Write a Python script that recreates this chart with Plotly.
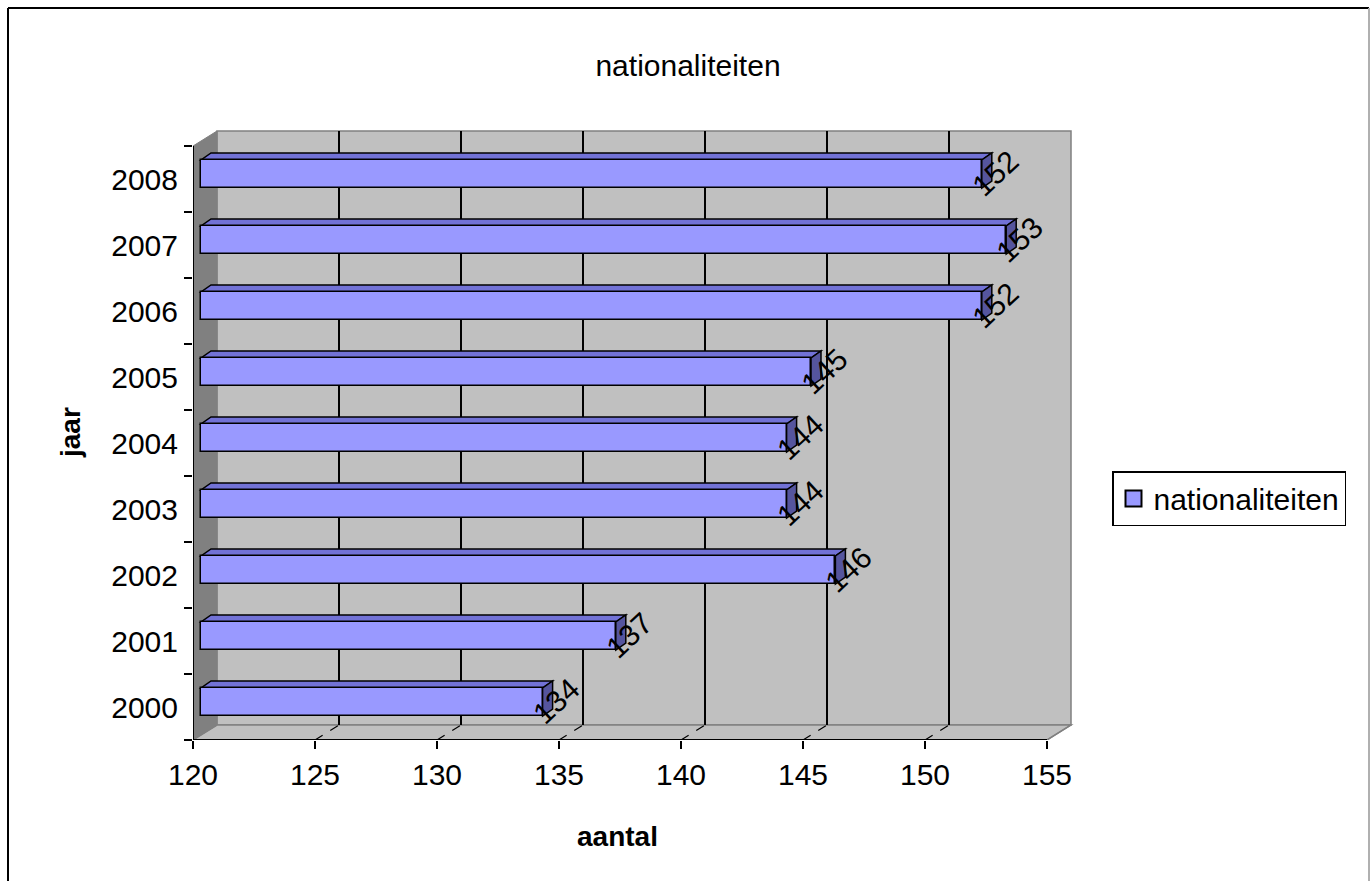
import plotly.graph_objects as go

# ---- data ----
years = ["2000", "2001", "2002", "2003", "2004", "2005", "2006", "2007", "2008"]
counts = [134, 137, 146, 144, 144, 145, 152, 153, 152]
x_ticks = [120, 125, 130, 135, 140, 145, 150, 155]
series_name = "nationaliteiten"
chart_title = "nationaliteiten"
x_title = "aantal"
y_title = "jaar"

# ---- geometry (pixels) ----
W, H = 1371, 881
L, R = 193, 1075          # plot area left/right
T, B = 128, 740           # plot area top/bottom
XMIN, XMAX = x_ticks[0], x_ticks[-1]
PX_PER_X = (1047 - 193) / (XMAX - XMIN)
PX_PER_Y = 66.0
x_range = [XMIN, XMIN + (R - L) / PX_PER_X]
y_range = [-0.5, -0.5 + (B - T) / PX_PER_Y]
NCAT = len(years)


def dx(p):
    return p / PX_PER_X


def dy(p):
    return p / PX_PER_Y


def pxp(px):
    return (px - L) / (R - L)


def pyp(py):
    return (B - py) / (B - T)


WDX, WDY = 24, 15       # wall depth
BDX, BDY = 8, 5         # bar front offset
BH = 28                 # bar front height
TDX, TDY = 10, 7        # bar depth

FONT = "Liberation Sans, Arial, sans-serif"
BAR = "#9999ff"

ybot, ytop = -0.5, NCAT - 0.5


def path(pts):
    return "M " + " L ".join(f"{x},{y}" for x, y in pts) + " Z"


shapes = []
# back wall
shapes.append(dict(type="rect", xref="x", yref="y", layer="below",
                   x0=XMIN + dx(WDX), x1=XMAX + dx(WDX),
                   y0=ybot + dy(WDY), y1=ytop + dy(WDY),
                   fillcolor="#c0c0c0", line=dict(color="#808080", width=1.5)))
# floor
shapes.append(dict(type="path", xref="x", yref="y", layer="below",
                   path=path([(XMIN, ybot), (XMAX, ybot),
                              (XMAX + dx(WDX), ybot + dy(WDY)),
                              (XMIN + dx(WDX), ybot + dy(WDY))]),
                   fillcolor="#c0c0c0", line=dict(color="#808080", width=1.5)))
# left wall
shapes.append(dict(type="path", xref="x", yref="y", layer="below",
                   path=path([(XMIN, ybot), (XMIN + dx(WDX), ybot + dy(WDY)),
                              (XMIN + dx(WDX), ytop + dy(WDY)), (XMIN, ytop)]),
                   fillcolor="#808080", line=dict(color="#808080", width=1)))
# grid lines on the back wall + dashed floor lines
for v in x_ticks[1:-1]:
    shapes.append(dict(type="line", xref="x", yref="y", layer="below",
                       x0=v + dx(WDX), x1=v + dx(WDX),
                       y0=ybot + dy(WDY), y1=ytop + dy(WDY),
                       line=dict(color="black", width=2)))
for v in x_ticks[1:]:
    shapes.append(dict(type="line", xref="x", yref="y", layer="below",
                       x0=v, x1=v + dx(WDX), y0=ybot, y1=ybot + dy(WDY),
                       line=dict(color="black" if v != XMAX else "#808080",
                                 width=1.2, dash="dash" if v != XMAX else "solid")))

# bar top and side faces
for i, v in enumerate(counts):
    xl = XMIN + dx(BDX)
    xr = v + dx(BDX)
    yc = i + dy(BDY)
    yt = yc + dy(BH / 2)
    yb = yc - dy(BH / 2)
    shapes.append(dict(type="path", xref="x", yref="y", layer="below",
                       path=path([(xl, yt), (xr, yt),
                                  (xr + dx(TDX), yt + dy(TDY)),
                                  (xl + dx(TDX), yt + dy(TDY))]),
                       fillcolor="#7272d6", line=dict(color="black", width=1.5)))
    shapes.append(dict(type="path", xref="x", yref="y", layer="below",
                       path=path([(xr, yb), (xr, yt),
                                  (xr + dx(TDX), yt + dy(TDY)),
                                  (xr + dx(TDX), yb + dy(TDY))]),
                       fillcolor="#55559e", line=dict(color="black", width=1.5)))

# front axis lines
shapes.append(dict(type="line", xref="x", yref="y", layer="above",
                   x0=XMIN, x1=XMAX, y0=ybot, y1=ybot,
                   line=dict(color="black", width=2)))
shapes.append(dict(type="line", xref="x", yref="y", layer="above",
                   x0=XMIN, x1=XMIN, y0=ybot, y1=ytop,
                   line=dict(color="black", width=2)))

# chart border
shapes.append(dict(type="line", xref="paper", yref="paper",
                   x0=pxp(8), x1=pxp(8), y0=pyp(8), y1=pyp(H + 5),
                   line=dict(color="black", width=2)))
shapes.append(dict(type="line", xref="paper", yref="paper",
                   x0=pxp(8), x1=pxp(1369), y0=pyp(8), y1=pyp(8),
                   line=dict(color="black", width=2)))
shapes.append(dict(type="line", xref="paper", yref="paper",
                   x0=pxp(1369), x1=pxp(1369), y0=pyp(8), y1=pyp(H + 5),
                   line=dict(color="#b0b0b0", width=2)))

fig = go.Figure()
fig.add_trace(go.Bar(
    orientation="h",
    y=[i + dy(BDY) for i in range(NCAT)],
    x=[v - XMIN for v in counts],
    base=XMIN + dx(BDX),
    width=dy(BH),
    marker=dict(color=BAR, line=dict(color="black", width=1.5)),
    showlegend=False, hoverinfo="skip",
))
fig.add_trace(go.Scatter(
    x=[None], y=[None], mode="markers", name=series_name,
    marker=dict(symbol="square", size=17, color=BAR,
                line=dict(color="black", width=2)),
))

annotations = []
for i, v in enumerate(counts):
    annotations.append(dict(x=v, y=i + dy(BDY), xref="x", yref="y",
                            text=str(v), showarrow=False, textangle=-43,
                            xshift=21, yshift=1,
                            font=dict(family=FONT, size=30, color="black")))
annotations.append(dict(x=pxp(617), y=pyp(837), xref="paper", yref="paper",
                        xanchor="center", yanchor="middle",
                        text=f"<b>{x_title}</b>", showarrow=False,
                        font=dict(family=FONT, size=28, color="black")))
annotations.append(dict(x=pxp(70), y=pyp(433), xref="paper", yref="paper",
                        xanchor="center", yanchor="middle",
                        text=f"<b>{y_title}</b>", showarrow=False, textangle=-90,
                        font=dict(family=FONT, size=28, color="black")))

fig.update_layout(
    width=W, height=H,
    margin=dict(l=L, r=W - R, t=T, b=H - B, pad=0),
    paper_bgcolor="white", plot_bgcolor="white",
    title=dict(text=chart_title, xref="container", yref="container",
               x=688 / W, y=1 - 65 / H, xanchor="center", yanchor="middle",
               font=dict(family=FONT, size=30, color="black")),
    xaxis=dict(range=x_range, tickvals=x_ticks, ticks="outside", ticklen=8,
               tickwidth=1.5, tickcolor="black", showgrid=False, zeroline=False,
               showline=False, tickfont=dict(family=FONT, size=30, color="black")),
    yaxis=dict(range=y_range, tickvals=list(range(NCAT)), ticktext=years,
               ticks="", showgrid=False, zeroline=False, showline=False,
               ticklabelstandoff=14,
               tickfont=dict(family=FONT, size=30, color="black"),
               minor=dict(tickvals=[k - 0.5 for k in range(NCAT + 1)],
                          ticks="outside", ticklen=8, tickwidth=1.5,
                          tickcolor="black", showgrid=False)),
    legend=dict(x=pxp(1112), y=pyp(471), xanchor="left", yanchor="top",
                bordercolor="black", borderwidth=1.5, bgcolor="white",
                font=dict(family=FONT, size=30, color="black")),
    shapes=shapes,
    annotations=annotations,
    bargap=0,
)

fig.write_html("out.html", config={"displayModeBar": False},
               post_script="document.body.style.margin='0';document.body.style.overflow='hidden';")
